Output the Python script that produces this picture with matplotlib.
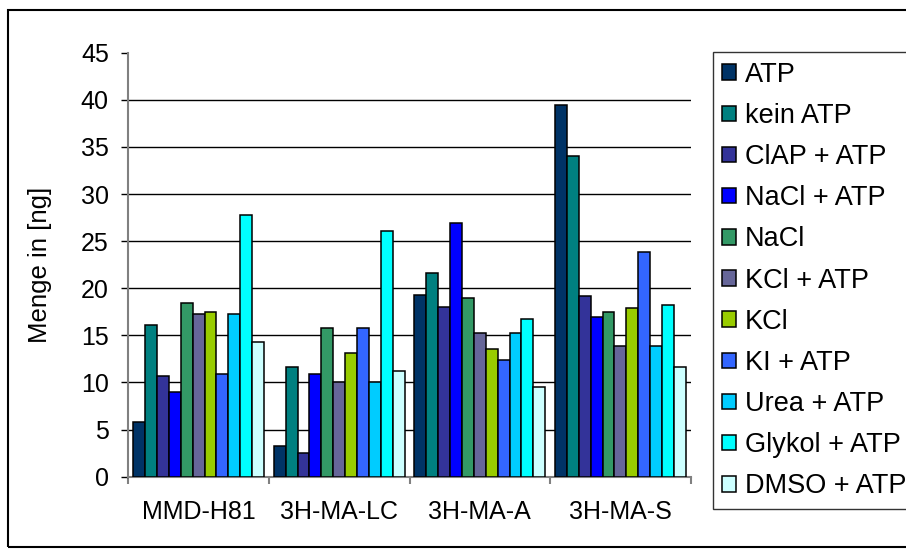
import matplotlib.pyplot as plt
import matplotlib.patches as patches
import numpy as np

plt.rcParams['font.family'] = ['Liberation Sans', 'DejaVu Sans']

groups = ["MMD-H81", "3H-MA-LC", "3H-MA-A", "3H-MA-S"]
series = ["ATP", "kein ATP", "ClAP + ATP", "NaCl + ATP", "NaCl", "KCl + ATP",
          "KCl", "KI + ATP", "Urea + ATP", "Glykol + ATP", "DMSO + ATP"]
colors = ["#003366", "#008080", "#333399", "#0000FF", "#339966", "#666699",
          "#99CC00", "#3366FF", "#00CCFF", "#00FFFF", "#CCFFFF"]

# one row per series, one value per group
values = [
    [5.8, 3.3, 19.3, 39.5],    # ATP
    [16.1, 11.6, 21.6, 34.0],  # kein ATP
    [10.7, 2.5, 18.0, 19.2],   # ClAP + ATP
    [9.0, 10.9, 26.9, 16.9],   # NaCl + ATP
    [18.4, 15.8, 19.0, 17.5],  # NaCl
    [17.3, 10.1, 15.2, 13.9],  # KCl + ATP
    [17.5, 13.1, 13.6, 17.9],  # KCl
    [10.9, 15.8, 12.4, 23.9],  # KI + ATP
    [17.3, 10.1, 15.2, 13.9],  # Urea + ATP
    [27.8, 26.1, 16.7, 18.2],  # Glykol + ATP
    [14.3, 11.2, 9.5, 11.6],   # DMSO + ATP
]
yticks = [0, 5, 10, 15, 20, 25, 30, 35, 40, 45]

W, H = 906, 551
fig = plt.figure(figsize=(W / 100, H / 100), dpi=100)
ax = fig.add_axes([128.3 / W, 1 - 476.7 / H, (690.7 - 128.3) / W, (476.7 - 52.7) / H])

x = np.arange(len(groups))
n = len(series)
bw = 0.0846
for i, (name, vals, c) in enumerate(zip(series, values, colors)):
    ax.bar(x + (i - (n - 1) / 2) * bw, vals, width=bw, color=c,
           edgecolor="black", linewidth=1.1, label=name, zorder=3)

# gridlines 5..40, no line at the top
for t in yticks[1:-1]:
    ax.axhline(t, color="black", linewidth=1, zorder=1)

ax.set_xlim(-0.5, len(groups) - 0.5)
ax.set_ylim(0, 45)
ax.set_yticks(yticks)
ax.set_xticks(x)
ax.set_xticklabels(groups)
ax.set_xticks(np.arange(len(groups) + 1) - 0.5, minor=True)
ax.tick_params(axis="x", which="major", length=0, pad=17, labelsize=18)
ax.tick_params(axis="x", which="minor", length=5, width=1.5, color="#808080", direction="out")
ax.tick_params(axis="y", length=5, width=1, color="black", pad=9, labelsize=18)

for s in ["top", "right"]:
    ax.spines[s].set_visible(False)
for s in ["left", "bottom"]:
    ax.spines[s].set_color("#808080")
    ax.spines[s].set_linewidth(1.5)

ax.set_ylabel("Menge in [ng]", fontsize=18.5)
ax.yaxis.set_label_coords((52 - 128.3) / (690.7 - 128.3), 0.5)

leg = fig.legend(loc="upper left", bbox_to_anchor=(712.7 / W, 1 - 52.3 / H),
                 fontsize=19.5, frameon=True, fancybox=False, edgecolor="black",
                 handlelength=0.5, handleheight=0.5, handletextpad=0.35,
                 labelspacing=0.56, borderpad=0.35, borderaxespad=0)
leg.get_frame().set_linewidth(1)

fig.patches.append(patches.Rectangle((8 / W, 1 - 547 / H), 1.0, (547 - 10) / H,
                                     transform=fig.transFigure, fill=False,
                                     edgecolor="black", linewidth=1.5))

fig.savefig("out.png", dpi=100)
